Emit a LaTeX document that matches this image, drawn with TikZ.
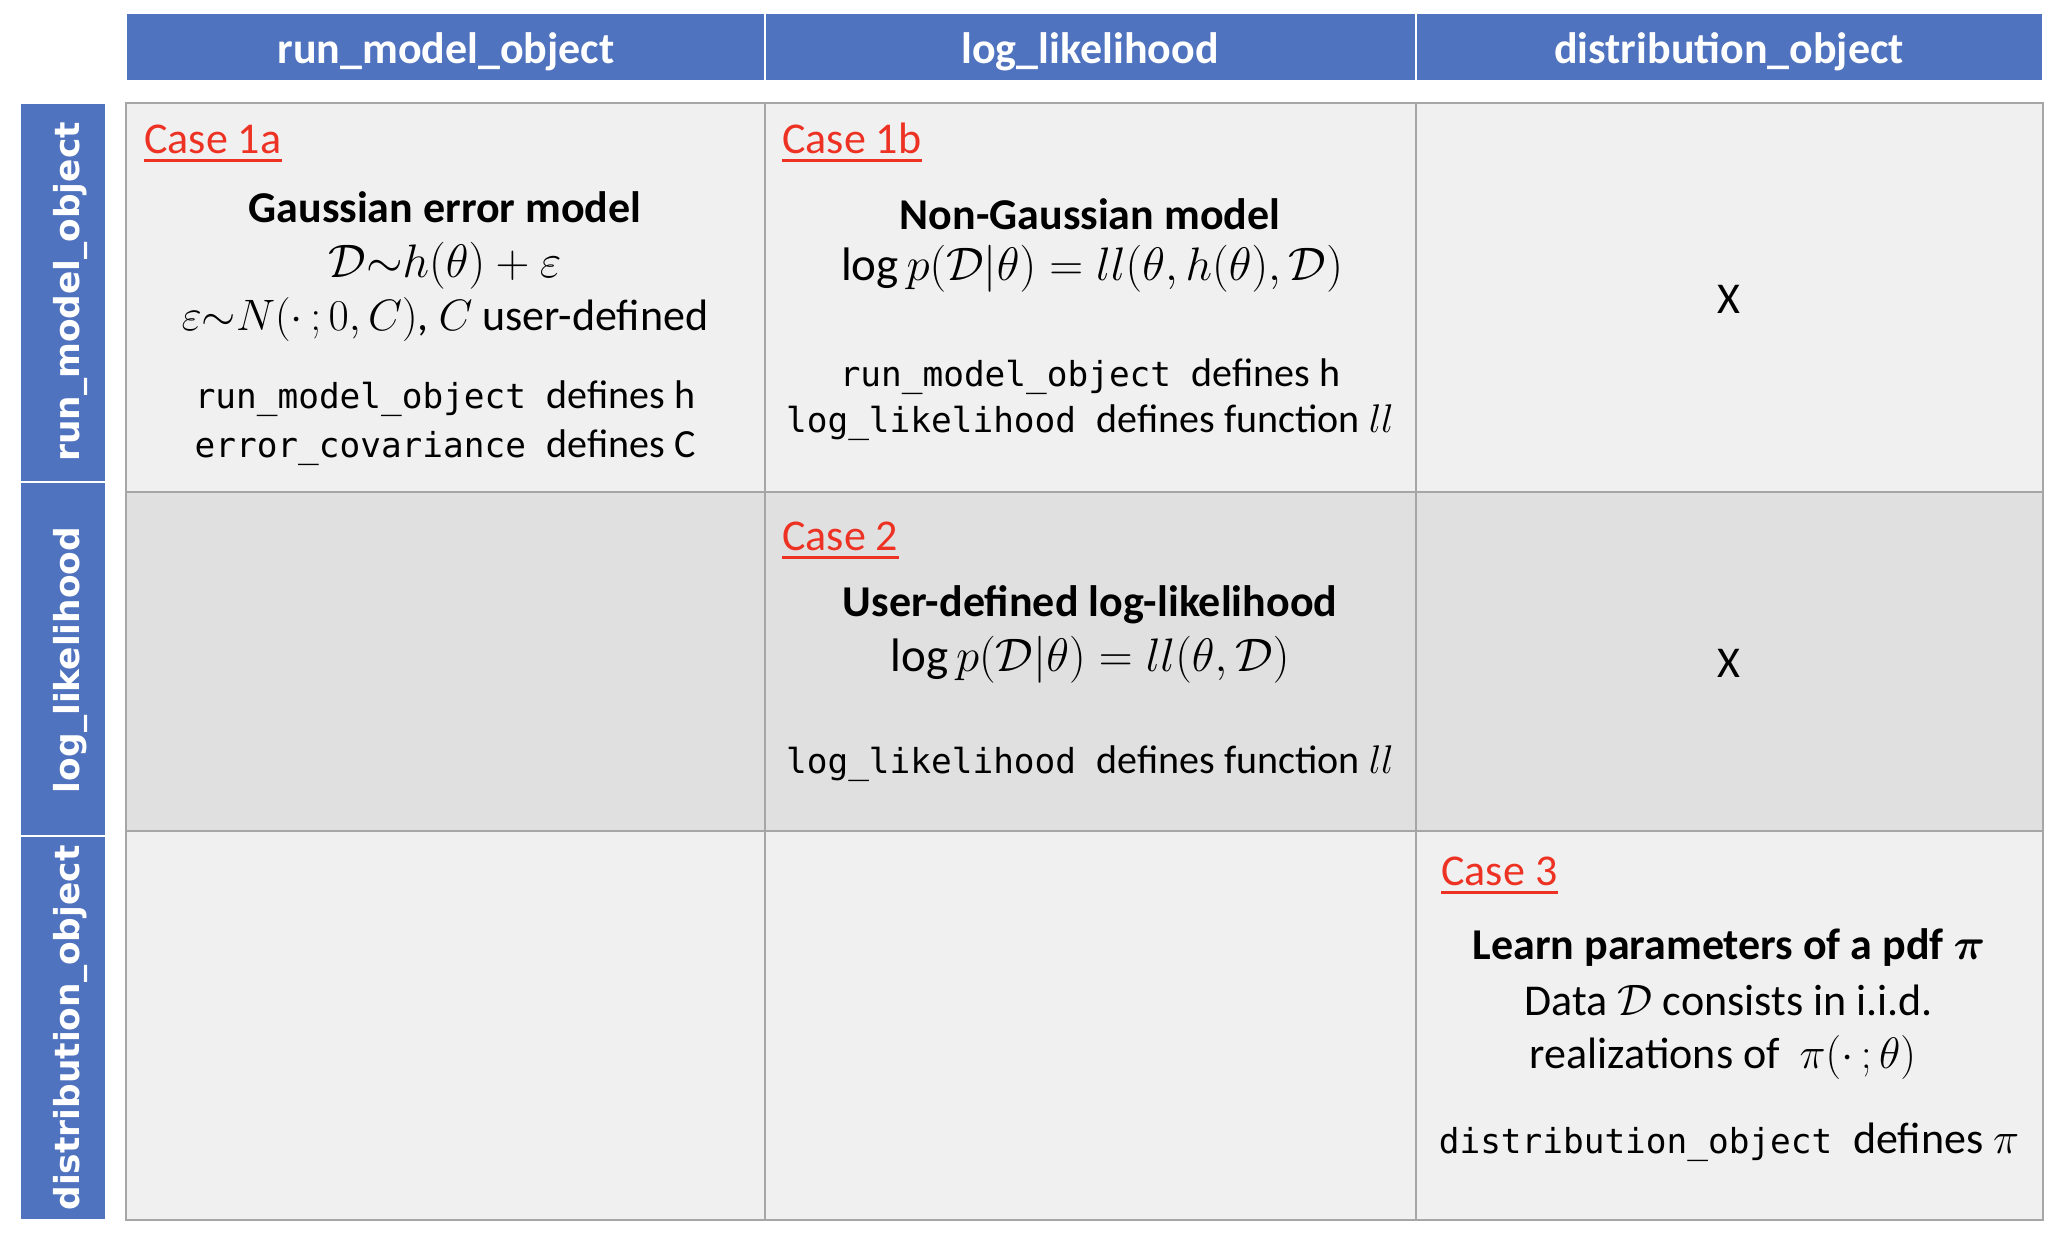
\RequirePackage{fix-cm}
\documentclass[tikz,border=0pt]{standalone}
\usepackage{amsmath}
\usepackage{fontspec}
\setmainfont{Carlito}
\setmonofont{DejaVu Sans Mono}
\newfontfamily\bandfont{DejaVu Sans}
\definecolor{bandblue}{RGB}{79,115,190}
\definecolor{casered}{RGB}{237,50,36}
\definecolor{rowA}{RGB}{240,240,240}
\definecolor{rowB}{RGB}{224,224,224}
\definecolor{gridgray}{RGB}{166,166,166}
\newcommand\code[1]{{\fontsize{17.2}{20}\ttfamily #1}}
\tikzset{
  hdr/.style={anchor=base, inner sep=0pt, text=white, font=\fontsize{22}{26}\selectfont\bfseries},
  side/.style={anchor=base, inner sep=0pt, text=white, rotate=90, font=\fontsize{17.2}{20}\bandfont\bfseries},
  casel/.style={anchor=base west, inner sep=0pt, text=casered, font=\fontsize{22}{26}\selectfont},
  caseul/.style={draw=casered, line width=1.5pt},
  ttl/.style={anchor=base, inner sep=0pt, font=\fontsize{22}{26}\selectfont\bfseries},
  txt/.style={anchor=base, inner sep=0pt, font=\fontsize{22}{26}\selectfont},
  mth/.style={anchor=base, inner sep=0pt, font=\fontsize{23.5}{28}\selectfont},
  cdl/.style={anchor=base, inner sep=0pt, font=\fontsize{20}{24}\selectfont},
  cdlb/.style={anchor=base, inner sep=0pt, font=\fontsize{22}{26}\selectfont},
  gridl/.style={draw=gridgray, line width=1pt},
  sepl/.style={draw=white, line width=1pt}
}
\begin{document}
\begin{tikzpicture}[x=0.5pt,y=-0.5pt]
\useasboundingbox (0,0) rectangle (2058,1238);
% cell fills
\fill[rowA] (126,103) rectangle (2043,492);
\fill[rowB] (126,492) rectangle (2043,831);
\fill[rowA] (126,831) rectangle (2043,1220);
% grid
\draw[gridl] (765,103) -- (765,1220);
\draw[gridl] (1416,103) -- (1416,1220);
\draw[gridl] (126,492) -- (2043,492);
\draw[gridl] (126,831) -- (2043,831);
\draw[gridl] (126,103) rectangle (2043,1220);
% header band
\fill[bandblue] (127,14) rectangle (2042,80);
\draw[sepl] (765,14) -- (765,80);
\draw[sepl] (1416,14) -- (1416,80);
% side band
\fill[bandblue] (21,104) rectangle (105,1219);
\draw[sepl] (21,482) -- (105,482);
\draw[sepl] (21,836) -- (105,836);
% header labels
\node[hdr] (h1) at (446,63) {run\_model\_object};
\node[hdr] (h2) at (1090,63) {log\_likelihood};
\node[hdr] (h3) at (1729,63) {distribution\_object};
% side labels
\node[side] (s1) at (79,292) {run\_model\_object};
\node[side] (s2) at (79,660) {log\_likelihood};
\node[side] (s3) at (79,1028) {distribution\_object};
% Case 1a
\node[casel] (c1a) at (144,153) {Case 1a};
\draw[caseul] ([yshift=-3.75pt]c1a.base west) -- ([yshift=-3.75pt]c1a.base east);
\node[ttl] (t1a) at (445,222) {Gaussian error model};
\node[mth] (m1a) at (445,277) {$\mathcal{D}\mathord{\sim}h(\theta)+\varepsilon$};
\node[txt] (n1a) at (445,330) {$\varepsilon\mathord{\sim}N(\cdot\,;0,C)$, $C$ user-defined};
\node[cdl] (d1a) at (445,408) {\code{run\_model\_object }defines h};
\node[cdl] (e1a) at (445,457) {\code{error\_covariance }defines C};
% Case 1b
\node[casel] (c1b) at (782,153) {Case 1b};
\draw[caseul] ([yshift=-3.75pt]c1b.base west) -- ([yshift=-3.75pt]c1b.base east);
\node[ttl] (t1b) at (1090,229) {Non-Gaussian model};
\node[mth] (m1b) at (1092,280) {$\log p(\mathcal{D}|\theta)=ll(\theta,h(\theta),\mathcal{D})$};
\node[cdl] (d1b) at (1090,386) {\code{run\_model\_object }defines h};
\node[cdl] (e1b) at (1090,432) {\code{log\_likelihood }defines function $ll$};
\node[txt] (x1) at (1729,313) {X};
% Case 2
\node[casel] (c2) at (782,550) {Case 2};
\draw[caseul] ([yshift=-3.75pt]c2.base west) -- ([yshift=-3.75pt]c2.base east);
\node[ttl] (t2) at (1090,616) {User-defined log-likelihood};
\node[mth] (m2) at (1090,671) {$\log p(\mathcal{D}|\theta)=ll(\theta,\mathcal{D})$};
\node[cdl] (d2) at (1090,773) {\code{log\_likelihood }defines function $ll$};
\node[txt] (x2) at (1729,677) {X};
% Case 3
\node[casel] (c3) at (1441,885) {Case 3};
\draw[caseul] ([yshift=-3.75pt]c3.base west) -- ([yshift=-3.75pt]c3.base east);
\node[ttl] (t3) at (1729,959) {Learn parameters of a pdf $\boldsymbol{\pi}$};
\node[txt] (a3) at (1729,1015) {Data $\mathcal{D}$ consists in i.i.d.};
\node[txt] (b3) at (1723,1068) {realizations of \ $\pi(\cdot\,;\theta)$};
\node[cdlb] (d3) at (1729,1153) {\code{distribution\_object }defines $\pi$};
\end{tikzpicture}
\end{document}
